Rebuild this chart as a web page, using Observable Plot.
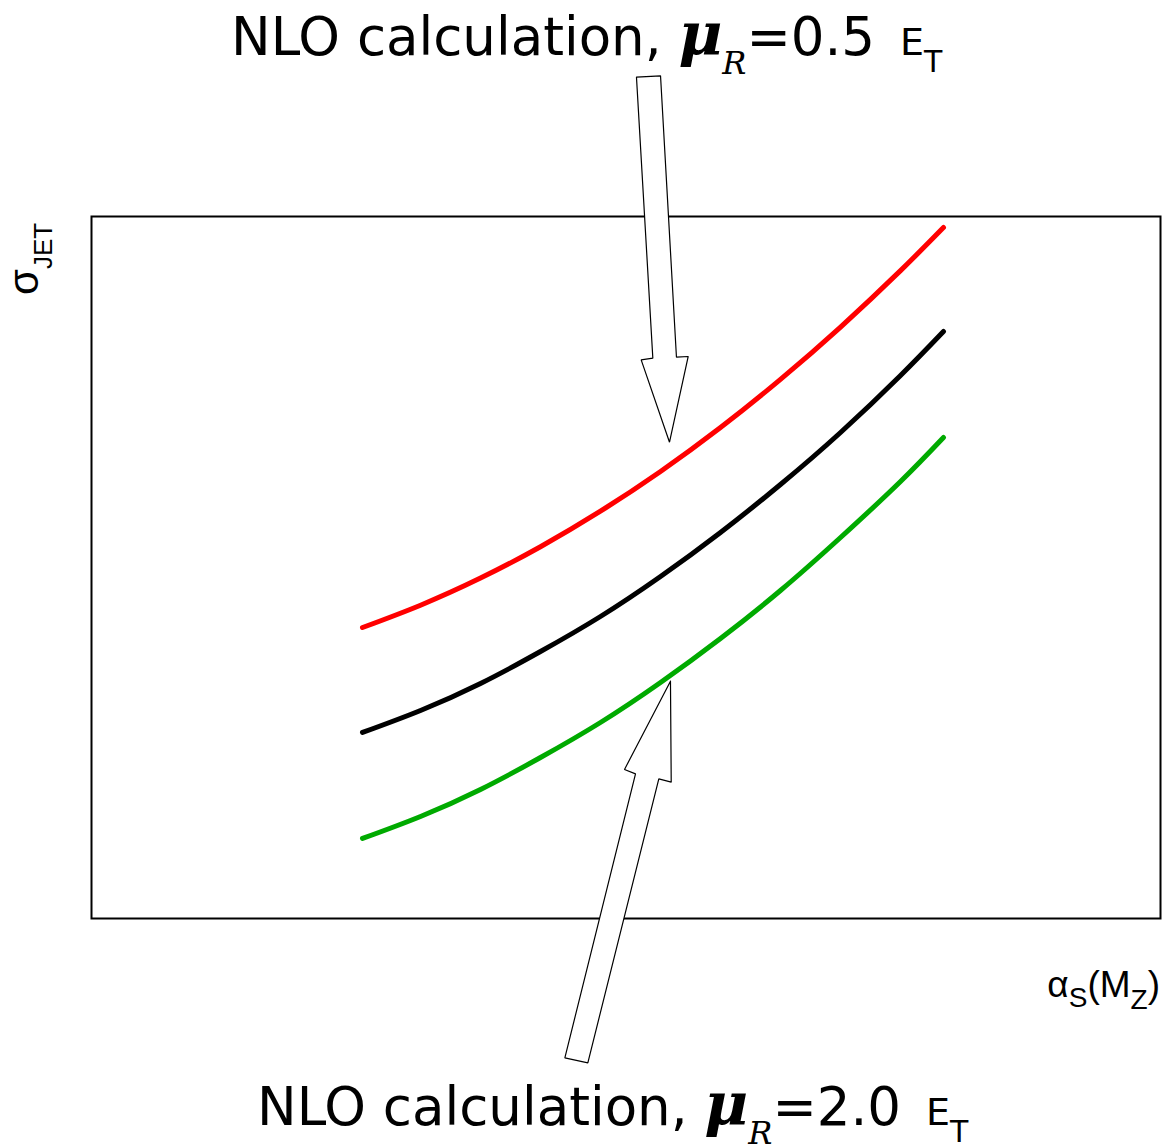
<!DOCTYPE html>
<html><head><meta charset="utf-8">
<script src="https://cdn.jsdelivr.net/npm/d3@7"></script>
<script src="https://cdn.jsdelivr.net/npm/@observablehq/plot@0.6"></script>
<style>body{margin:0;background:#fff} #chart svg{display:block}</style>
</head><body><div id="chart"></div>
<script>
// alpha_s(M_Z) axis (arbitrary units, no ticks)
const alphaS = [0.2535, 0.3078, 0.3639, 0.4200, 0.4761, 0.5323, 0.5884, 0.6445, 0.7007, 0.7568, 0.7970];
// sigma_JET for the three scale choices (arbitrary units)
const sigmaHalf = [0.4145, 0.4463, 0.4849, 0.5296, 0.5802, 0.6368, 0.6994, 0.7680, 0.8425, 0.9229, 0.9843]; // mu_R = 0.5 E_T
const sigmaOne  = [0.2650, 0.2963, 0.3348, 0.3803, 0.4302, 0.4872, 0.5499, 0.6182, 0.6923, 0.7735, 0.8362]; // mu_R = 1.0 E_T
const sigmaTwo  = [0.1140, 0.1453, 0.1838, 0.2293, 0.2792, 0.3362, 0.3989, 0.4672, 0.5427, 0.6225, 0.6852]; // mu_R = 2.0 E_T
const seriesNames = ["0.5", "1.0", "2.0"];
const seriesColors = ["#ff0000", "#000000", "#00aa00"];

// annotation arrows (outline polygons, data units)
const arrowDownX = [0.5098, 0.5323, 0.5472, 0.5582, 0.5407, 0.5142, 0.5251, 0.5098];
const arrowDownY = [1.1984, 1.2004, 0.7996, 0.8006, 0.6785, 0.7957, 0.7982, 1.1984];
const arrowUpX = [0.5416, 0.5423, 0.5307, 0.4643, 0.4428, 0.5089, 0.4986, 0.5416];
const arrowUpY = [0.3380, 0.1942, 0.1990, -0.2056, -0.1985, 0.2060, 0.2123, 0.3380];

const curveRows = [];
[sigmaHalf, sigmaOne, sigmaTwo].forEach((arr, k) =>
  arr.forEach((v, i) => curveRows.push({x: alphaS[i], y: v, series: seriesNames[k]})));
const arrowRows = [];
arrowDownX.forEach((v, i) => arrowRows.push({x: v, y: arrowDownY[i], id: "down"}));
arrowUpX.forEach((v, i) => arrowRows.push({x: v, y: arrowUpY[i], id: "up"}));

const plot = Plot.plot({
  width: 1162, height: 1146,
  marginLeft: 91, marginRight: 2, marginTop: 216, marginBottom: 228,
  x: {domain: [0, 1], axis: null},
  y: {domain: [0, 1], axis: null},
  color: {domain: seriesNames, range: seriesColors},
  style: {background: "white", overflow: "visible"},
  marks: [
    Plot.frame({stroke: "black", strokeWidth: 2}),
    Plot.line(arrowRows, {x: "x", y: "y", z: "id", fill: "white", stroke: "black", strokeWidth: 1.2, strokeLinejoin: "miter", curve: "linear"}),
    Plot.line(curveRows, {x: "x", y: "y", z: "series", stroke: "series", strokeWidth: 5, curve: "natural"})
  ]
});
document.getElementById("chart").appendChild(plot);

const sx = plot.scale("x"), sy = plot.scale("y");
const svg = d3.select(plot);

function title(xd, yd, value) {
  const t = svg.append("text")
    .attr("x", sx.apply(xd)).attr("y", sy.apply(yd))
    .attr("text-anchor", "start")
    .attr("font-family", "DejaVu Sans").attr("font-size", 53).attr("fill", "black");
  t.append("tspan").text("NLO calculation, ");
  t.append("tspan").text("μ").attr("font-family", "DejaVu Serif").attr("font-style", "italic").attr("font-weight", "bold").attr("font-size", 60);
  t.append("tspan").text("R").attr("font-family", "DejaVu Serif").attr("font-style", "italic").attr("font-size", 32).attr("dy", 19);
  t.append("tspan").text("=" + value + " ").attr("dy", -19);
  t.append("tspan").text("E").attr("font-size", 38).attr("dx", 8);
  t.append("tspan").text("T").attr("font-size", 30).attr("dy", 17);
}
title(0.1310, 1.2293, "0.5");
title(0.1553, -0.2949, "2.0");

// y label: sigma_JET (rotated)
const yl = svg.append("text")
  .attr("transform", `translate(${sx.apply(-0.0496)},${sy.apply(0.8875)}) rotate(-90)`)
  .attr("text-anchor", "start")
  .attr("font-family", "Liberation Sans").attr("fill", "black");
yl.append("tspan").text("σ").attr("font-size", 42);
yl.append("tspan").text("JET").attr("font-size", 26).attr("dy", 14);

// x label: alpha_s(M_Z)
const xl = svg.append("text")
  .attr("x", sx.apply(1.0)).attr("y", sy.apply(-0.1125))
  .attr("text-anchor", "end")
  .attr("font-family", "Liberation Sans").attr("font-size", 37).attr("fill", "black");
xl.append("tspan").text("α");
xl.append("tspan").text("S").attr("font-size", 28).attr("dy", 10);
xl.append("tspan").text("(M").attr("dy", -10);
xl.append("tspan").text("Z").attr("font-size", 28).attr("dy", 12);
xl.append("tspan").text(")").attr("dy", -12);
</script>
</body></html>
